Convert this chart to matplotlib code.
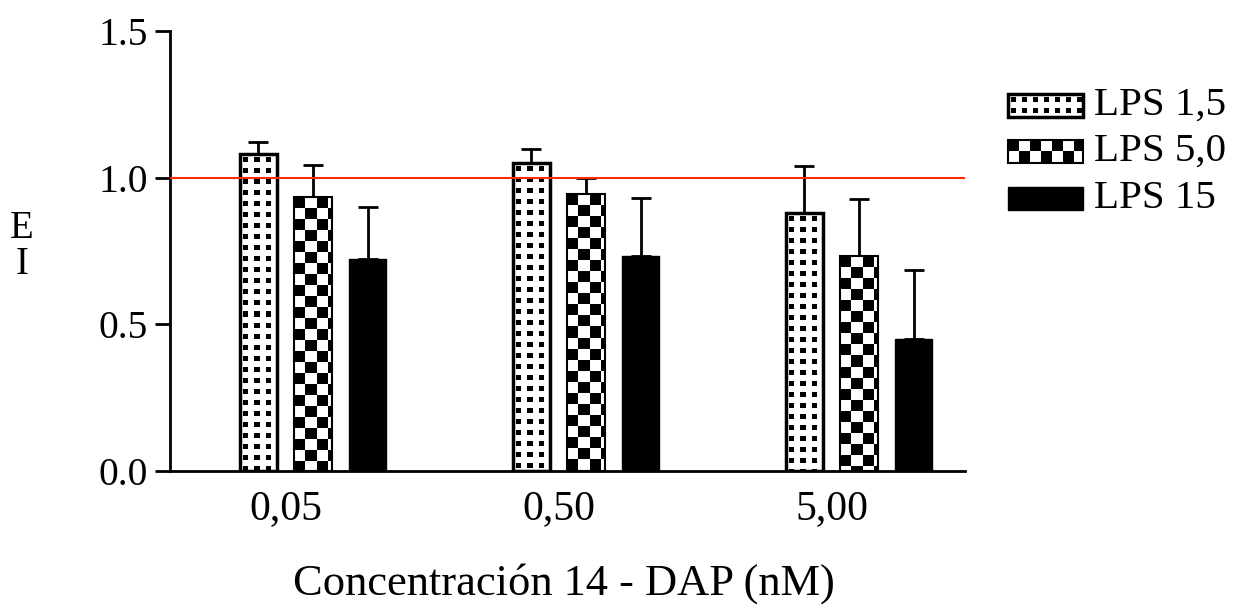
import numpy as np
import matplotlib
matplotlib.use("Agg")
import matplotlib.pyplot as plt
from matplotlib.patches import Rectangle

plt.rcParams["font.family"] = ["Liberation Serif", "DejaVu Serif"]

groups = ["0,05", "0,50", "5,00"]
series = ["LPS 1,5", "LPS 5,0", "LPS 15"]
lps15_mean = [1.08, 1.05, 0.88]
lps50_mean = [0.934, 0.943, 0.731]
lps150_mean = [0.723, 0.731, 0.448]
lps15_sd = [0.042, 0.047, 0.16]
lps50_sd = [0.108, 0.057, 0.196]
lps150_sd = [0.177, 0.20, 0.237]
ref_level = 1.0

means = [lps15_mean, lps50_mean, lps150_mean]
sds = [lps15_sd, lps50_sd, lps150_sd]
kinds = ["dots", "checker", "solid"]
edge_lw = [2.5, 1.5, 1.0]


def pattern(kind, w, h):
    yy, xx = np.mgrid[0:h, 0:w]
    if kind == "dots":
        arr = np.ones((h, w))
        arr[((xx % 11) >= 3) & ((xx % 11) < 8) & ((yy % 11) >= 3) & ((yy % 11) < 8)] = 0
    elif kind == "checker":
        arr = ((xx // 11 + yy // 11) % 2).astype(float)
    else:
        arr = np.zeros((h, w))
    return arr


def fill_patch(ax, patch, kind):
    x0, y0 = patch.get_x(), patch.get_y()
    x1, y1 = x0 + patch.get_width(), y0 + patch.get_height()
    p0 = ax.transData.transform((x0, y0))
    p1 = ax.transData.transform((x1, y1))
    w = max(int(round(abs(p1[0] - p0[0]))), 1)
    h = max(int(round(abs(p1[1] - p0[1]))), 1)
    im = ax.imshow(pattern(kind, w, h), cmap="gray", vmin=0, vmax=1,
                   extent=(x0, x1, y0, y1), origin="upper", aspect="auto",
                   interpolation="nearest", zorder=2)
    im.set_clip_path(patch)


fig = plt.figure(figsize=(12.39, 6.12), dpi=100)
ax = fig.add_axes([0.1372, 0.2312, 0.6416, 0.7181])
ax.set_xlim(-0.524, 2.388)
ax.set_ylim(0, 1.5)

x = np.arange(len(groups))
width = 0.137
offsets = [-0.2, 0.0, 0.2]

for k in range(len(series)):
    bars = ax.bar(x + offsets[k], means[k], width, facecolor="none",
                  edgecolor="black", linewidth=edge_lw[k], zorder=3)
    for b in bars:
        fill_patch(ax, b, kinds[k])
    ax.errorbar(x + offsets[k], means[k], yerr=[np.zeros(len(groups)), sds[k]],
                fmt="none", ecolor="black", elinewidth=2, capsize=7.5,
                capthick=2, zorder=1.5)

ax.axhline(ref_level, color="#ff2a00", linewidth=1.5, zorder=4)
ax.set_xlim(-0.524, 2.388)
ax.set_ylim(0, 1.5)

for s in ["top", "right"]:
    ax.spines[s].set_visible(False)
ax.spines["left"].set_linewidth(2)
ax.spines["bottom"].set_linewidth(2)

ax.set_yticks([0, 0.5, 1.0, 1.5])
ax.set_yticklabels(["0.0", "0.5", "1.0", "1.5"])
ax.tick_params(axis="y", direction="out", length=11, width=2, pad=5, labelsize=28.5)
ax.set_xticks(x - 0.1)
ax.set_xticklabels(groups)
ax.tick_params(axis="x", length=0, pad=14, labelsize=30)

ax.set_xlabel("Concentración 14 - DAP (nM)", fontsize=32)
ax.xaxis.set_label_coords(0.495, -0.256)
ax.xaxis.label.set_va("center")
fig.text(22 / 1239, 1 - 228 / 612, "E", fontsize=28, ha="center", va="center")
fig.text(22 / 1239, 1 - 265 / 612, "I", fontsize=28, ha="center", va="center")

# legend drawn in pixel space
lax = fig.add_axes([0, 0, 1, 1])
lax.set_xlim(0, 1239)
lax.set_ylim(0, 612)
lax.axis("off")
tops = [94, 140, 187]
for k in range(len(series)):
    r = Rectangle((1008, 612 - tops[k] - 23), 75, 23, facecolor="none",
                  edgecolor="black", linewidth=edge_lw[k], zorder=3)
    lax.add_patch(r)
    fill_patch(lax, r, kinds[k])
    lax.text(1094, 612 - tops[k] - 11.5, series[k], fontsize=29.5,
             ha="left", va="center")
lax.set_xlim(0, 1239)
lax.set_ylim(0, 612)

fig.savefig("out.png", dpi=100)
